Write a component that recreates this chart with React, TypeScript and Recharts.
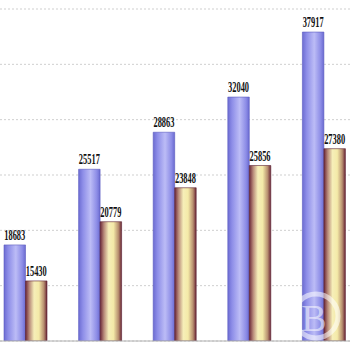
import React from "react";
import { BarChart, Bar, XAxis, YAxis, CartesianGrid, LabelList } from "recharts";

const categories = ["1", "2", "3", "4", "5"];
const seriesA = [18683, 25517, 28863, 32040, 37917];
const seriesB = [15430, 20779, 23848, 25856, 27380];
const boundaryTicks = [0, 1, 2, 3, 4, 5];

const data = categories.map((c, i) => ({ name: c, idx: i + 0.5, a: seriesA[i], b: seriesB[i] }));

const SquishLabel = (props: any) => {
  const { x, y, width, value } = props;
  return (
    <text
      x={x + width / 2}
      y={y - 5}
      textAnchor="middle"
      fontFamily="'Liberation Serif', serif"
      fontWeight="bold"
      fontSize={14}
      fill="#111"
      textLength={21}
      lengthAdjust="spacingAndGlyphs"
    >
      {value}
    </text>
  );
};

export default function App() {
  return (
    <div style={{ position: "fixed", left: 0, top: 0, width: 350, height: 350, overflow: "hidden", background: "#fff" }}>
      <div style={{ position: "absolute", left: -12, top: 0 }}>
        <BarChart
          width={373}
          height={362}
          data={data}
          margin={{ top: 9, right: 0, left: 0, bottom: 0 }}
          barGap={0}
          barSize={21.5}
        >
          <defs>
            <linearGradient id="gBlue" x1="0" y1="0" x2="1" y2="0">
              <stop offset="0%" stopColor="#6c6cd2" />
              <stop offset="20%" stopColor="#8e8ee8" />
              <stop offset="55%" stopColor="#bcbcf6" />
              <stop offset="85%" stopColor="#8c8ce6" />
              <stop offset="100%" stopColor="#6a6ad0" />
            </linearGradient>
            <linearGradient id="gGold" x1="0" y1="0" x2="1" y2="0">
              <stop offset="0%" stopColor="#6a2636" />
              <stop offset="18%" stopColor="#b88a7a" />
              <stop offset="40%" stopColor="#f6eeb8" />
              <stop offset="62%" stopColor="#f4eaa8" />
              <stop offset="85%" stopColor="#b89070" />
              <stop offset="100%" stopColor="#6a2636" />
            </linearGradient>
          </defs>
          <CartesianGrid horizontal vertical={false} stroke="#cfcfcf" strokeDasharray="2 2" />
          <YAxis hide domain={[10000, 40000]} ticks={[10000, 15000, 20000, 25000, 30000, 35000, 40000]} allowDataOverflow />
          <XAxis
            xAxisId="bnd"
            type="number"
            dataKey="idx"
            domain={[0, 5]}
            ticks={boundaryTicks}
            tick={false}
            tickLine={{ stroke: "#707070" }}
            tickSize={4}
            axisLine={{ stroke: "#b0b0b0" }}
            height={21}
          />
          <XAxis dataKey="name" xAxisId="cat" hide />
          <Bar xAxisId="cat" dataKey="a" fill="url(#gBlue)" stroke="#5a5ac0" strokeWidth={0.6} isAnimationActive={false}>
            <LabelList dataKey="a" content={SquishLabel} />
          </Bar>
          <Bar xAxisId="cat" dataKey="b" fill="url(#gGold)" stroke="#5a2030" strokeWidth={0.6} isAnimationActive={false}>
            <LabelList dataKey="b" content={SquishLabel} />
          </Bar>
        </BarChart>
      </div>
      <svg width={350} height={350} style={{ position: "absolute", left: 0, top: 0, pointerEvents: "none" }}>
        <circle cx={316} cy={316} r={22} fill="none" stroke="#ffffff" strokeOpacity={0.55} strokeWidth={5} />
        <text x={314} y={331} textAnchor="middle" fontSize={38} fontFamily="'Liberation Serif', serif" fill="#ffffff" fillOpacity={0.55}>B</text>
      </svg>
    </div>
  );
}
